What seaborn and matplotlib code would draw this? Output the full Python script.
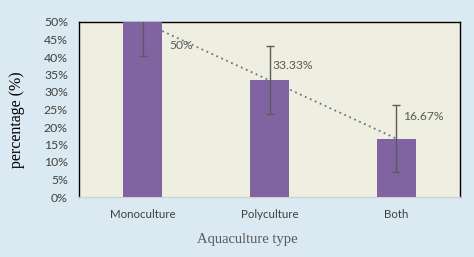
import matplotlib
matplotlib.use("Agg")
import matplotlib.pyplot as plt
import seaborn as sns
import numpy as np
import pandas as pd
from matplotlib.ticker import PercentFormatter

categories = ["Monoculture", "Polyculture", "Both"]
values = [50.0, 33.33, 16.67]
errors = [9.7, 9.7, 9.6]
value_labels = ["50%", "33.33%", "16.67%"]
yticks = [0, 5, 10, 15, 20, 25, 30, 35, 40, 45, 50]

df = pd.DataFrame({"type": categories, "pct": values})

fig = plt.figure(figsize=(4.74, 2.57), dpi=100)
fig.patch.set_facecolor("#dbeaf2")
ax = fig.add_axes([79/474, 1-197/257, (460-79)/474, (197-22)/257])
ax.set_facecolor("#eeefe0")

sns.barplot(data=df, x="type", y="pct", color="#8064a2", saturation=1,
            width=0.31, ax=ax, zorder=3, errorbar=None)

xs = np.arange(len(categories))
ax.errorbar(xs, values, yerr=errors, fmt="none", ecolor="#5a5a5a",
            elinewidth=1.0, capsize=3, capthick=1.0, zorder=4, clip_on=True)

# linear trendline
coef = np.polyfit(xs, values, 1)
tx = np.array([0, 2])
ax.plot(tx, np.polyval(coef, tx), linestyle=(0, (1, 2)), color="#6f6f88",
        linewidth=1.3, zorder=2)

offsets = [(0.21, -6.8), (0.02, 4.1), (0.05, 6.4)]
for x, v, lab, (dx, dy) in zip(xs, values, value_labels, offsets):
    ax.text(x + dx, v + dy, lab, fontsize=8.7, color="#595959",
            family="Lato", ha="left", va="center", zorder=5)

ax.set_xlim(-0.5, 2.5)
ax.set_ylim(0, 50)
ax.set_yticks(yticks)
ax.yaxis.set_major_formatter(PercentFormatter(decimals=0))
ax.tick_params(axis="both", length=0, labelcolor="#404040")
ax.tick_params(axis="y", pad=8, labelsize=8.8)
ax.tick_params(axis="x", pad=9, labelsize=8.3)
for lab in ax.get_xticklabels() + ax.get_yticklabels():
    lab.set_family("Lato")

for s in ["top", "left", "right"]:
    ax.spines[s].set_color("black")
    ax.spines[s].set_linewidth(1.0)
ax.spines["bottom"].set_color("#d0d4d0")
ax.spines["bottom"].set_linewidth(1.0)

ax.set_xlabel("Aquaculture type", family="Liberation Serif", fontsize=10.5,
              color="#595959")
ax.xaxis.set_label_coords((247-79)/381, -(240-197)/175, transform=ax.transAxes)
ax.xaxis.label.set_va("center")
ax.set_ylabel("percentage (%)", family="Liberation Serif", fontsize=11.5,
              color="#000000")
ax.yaxis.set_label_coords(-(79-17)/381, (197-120)/175, transform=ax.transAxes)
ax.yaxis.label.set_va("center")

fig.savefig("out.png", dpi=100, facecolor=fig.get_facecolor())
